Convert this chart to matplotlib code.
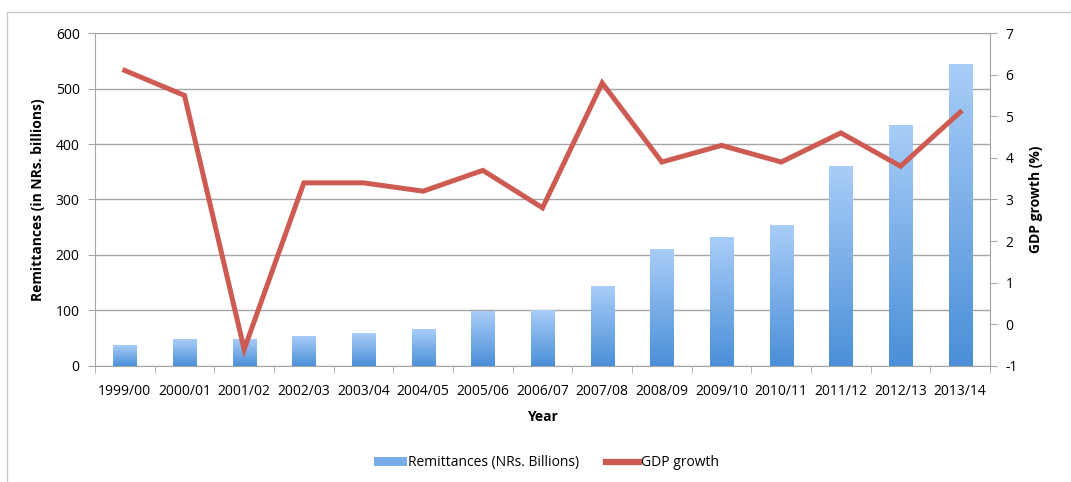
#!/usr/bin/env python3
import numpy as np
import matplotlib
matplotlib.use("Agg")
import matplotlib.pyplot as plt
from matplotlib.patches import Rectangle, Patch
from matplotlib.lines import Line2D
from matplotlib.colors import LinearSegmentedColormap

plt.rcParams["font.family"] = ["Open Sans", "DejaVu Sans"]
plt.rcParams["axes.unicode_minus"] = False

# ---------------------------------------------------------------------
# Data
# ---------------------------------------------------------------------

years = ["1999/00", "2000/01", "2001/02", "2002/03", "2003/04", "2004/05",
         "2005/06", "2006/07", "2007/08", "2008/09", "2009/10", "2010/11",
         "2011/12", "2012/13", "2013/14"]
remittances = [37, 47, 47, 54, 59, 66, 98, 100, 143, 210, 232, 253, 360, 434, 543]
gdp_growth = [6.1, 5.5, -0.6, 3.4, 3.4, 3.2, 3.7, 2.8, 5.8, 3.9, 4.3, 3.9, 4.6, 3.8, 5.1]

GRID = "#a6a6a6"
LINE = "#cd5b52"
grad = LinearSegmentedColormap.from_list("bars", ["#4a8fd8", "#a9cdf8"])

fig = plt.figure(figsize=(10.71, 4.82), dpi=100)
ax = fig.add_axes([0.0887, 0.2407, 0.8357, 0.6908])

# outer chart frame
fig.patches.append(Rectangle((7 / 1071, -0.1), 1.2, 1 - 12 / 482 + 0.1,
                             transform=fig.transFigure, fill=False,
                             edgecolor="#c8c8c8", lw=1.0))

x = np.arange(len(years))
w = 0.39
img = np.linspace(0, 1, 256).reshape(-1, 1)
for xi, h in zip(x, remittances):
    ax.imshow(img, cmap=grad, origin="lower", aspect="auto",
              extent=(xi - w / 2, xi + w / 2, 0, h), zorder=2)

ax.set_xlim(-0.5, len(years) - 0.5)
ax.set_ylim(0, 600)
ax.set_yticks(range(0, 601, 100))
ax.set_xticks(x)
ax.set_xticklabels(years, fontsize=10)
ax.set_xticks(np.arange(-0.5, len(years)), minor=True)
ax.tick_params(axis="x", which="major", length=0, pad=13)
ax.tick_params(axis="x", which="minor", length=5, color=GRID)
ax.tick_params(axis="y", length=5, color=GRID, labelsize=10, pad=6)
ax.grid(axis="y", color=GRID, lw=1.0, zorder=0)
ax.set_axisbelow(True)
for s in ["top", "right"]:
    ax.spines[s].set_visible(False)
for s in ["left", "bottom"]:
    ax.spines[s].set_color(GRID)
ax.set_ylabel("Remittances (in NRs. billions)", fontsize=10, fontweight="bold", labelpad=8)
ax.set_xlabel("Year", fontsize=10, fontweight="bold", labelpad=8)

ax2 = ax.twinx()
ax2.plot(x, gdp_growth, color=LINE, lw=3.6, solid_joinstyle="miter", zorder=3)
ax2.set_ylim(-1, 7)
ax2.set_yticks(range(-1, 8))
ax2.tick_params(axis="y", length=5, color=GRID, labelsize=10, pad=6)
for s in ["top", "left", "bottom"]:
    ax2.spines[s].set_visible(False)
ax2.spines["right"].set_color(GRID)
ax2.set_ylabel("GDP growth (%)", fontsize=10, fontweight="bold", labelpad=8)

handles = [Patch(facecolor="#78aee8", edgecolor="none"),
           Line2D([0], [0], color=LINE, lw=4.5)]
fig.legend(handles, ["Remittances (NRs. Billions)", "GDP growth"],
           loc="center", bbox_to_anchor=(0.51, 0.04), ncol=2, frameon=False,
           fontsize=10, handlelength=2.4, handleheight=0.6, handletextpad=0.1,
           columnspacing=1.9)

fig.savefig("out.png", dpi=100)
